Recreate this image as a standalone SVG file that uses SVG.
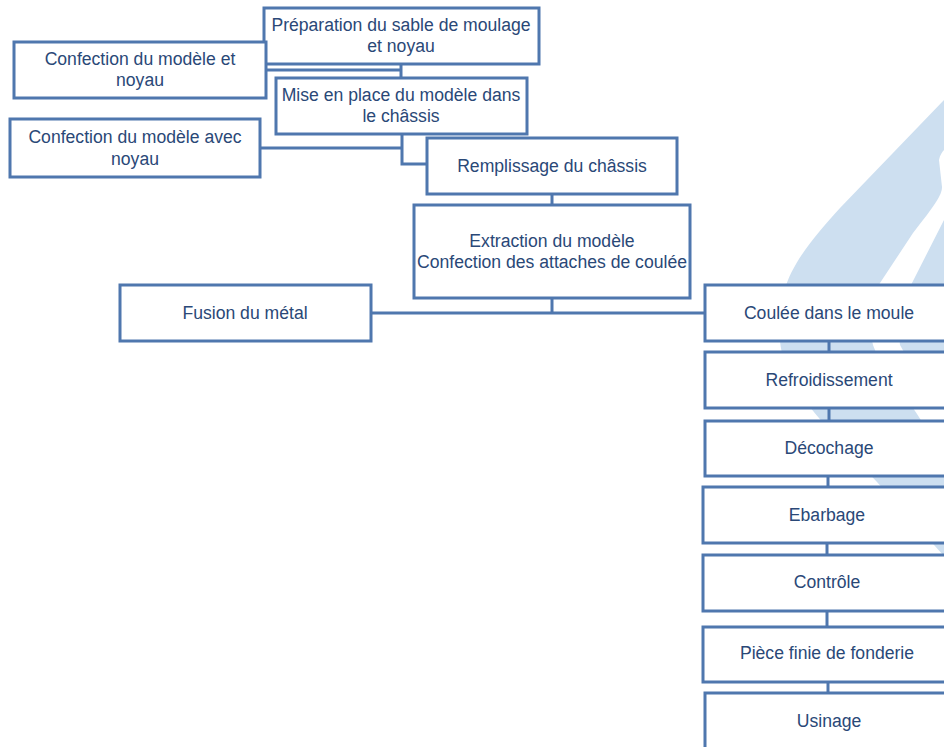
<svg xmlns="http://www.w3.org/2000/svg" width="944" height="747" viewBox="0 0 944 747">
<style>
.box rect{fill:#ffffff;stroke:#4f77ae;stroke-width:3}
.box text{font-family:"Liberation Sans",Arial,sans-serif;font-size:17.6px;fill:#2a4877;text-anchor:middle}
.wm{fill:#cddff0}
#connectors path{fill:none;stroke:#4f77ae;stroke-width:3}
</style>
<g id="watermark">
<path class="wm" d="M944,100 L840,208 C815,236 792,262 784,292 C776,322 778,350 790,378 C800,398 820,420 877,482 L944,556 L944,456 L917,414 C895,380 878,360 873,345 C868,325 872,300 880,283 L913,233 C935,205 942,195 942,187 L939,160 C940,155 942,152 944,150 Z"/>
<path class="wm" d="M944,220 L912,283 C902,303 897,325 900,345 C912,368 930,390 944,410 Z"/>
</g>
<g id="connectors">
<path d="M266,70 H402"/>
<path d="M401,64 V78"/>
<path d="M261,148 H402"/>
<path d="M402,134 V164 H427"/>
<path d="M552,194 V205"/>
<path d="M552,298 V313"/>
<path d="M371,313 H705"/>
<path d="M829,341 V352"/>
<path d="M829,408 V421"/>
<path d="M828,476 V487"/>
<path d="M827,543 V555"/>
<path d="M827,611 V627"/>
<path d="M828,682 V693"/>
</g>
<g id="n1" class="box"><rect x="264" y="8" width="275" height="56"/><text x="401" y="31">Préparation du sable de moulage</text><text x="401" y="52">et noyau</text></g>
<g id="n2" class="box"><rect x="14" y="42" width="252" height="56"/><text x="140" y="65">Confection du modèle et</text><text x="140" y="86">noyau</text></g>
<g id="n3" class="box"><rect x="276" y="78" width="251" height="56"/><text x="401" y="101">Mise en place du modèle dans</text><text x="401" y="122">le châssis</text></g>
<g id="n4" class="box"><rect x="10" y="119" width="250" height="58"/><text x="135" y="143">Confection du modèle avec</text><text x="135" y="165">noyau</text></g>
<g id="n5" class="box"><rect x="427" y="138" width="250" height="56"/><text x="552" y="172">Remplissage du châssis</text></g>
<g id="n6" class="box"><rect x="414" y="205" width="276" height="93"/><text x="552" y="247">Extraction du modèle</text><text x="552" y="268">Confection des attaches de coulée</text></g>
<g id="n7" class="box"><rect x="120" y="285" width="251" height="56"/><text x="245" y="319">Fusion du métal</text></g>
<g id="n8" class="box"><rect x="705" y="285" width="250" height="56"/><text x="829" y="319">Coulée dans le moule</text></g>
<g id="n9" class="box"><rect x="705" y="352" width="250" height="56"/><text x="829" y="386">Refroidissement</text></g>
<g id="n10" class="box"><rect x="705" y="421" width="250" height="55"/><text x="829" y="454">Décochage</text></g>
<g id="n11" class="box"><rect x="703" y="487" width="250" height="56"/><text x="827" y="521">Ebarbage</text></g>
<g id="n12" class="box"><rect x="703" y="555" width="250" height="56"/><text x="827" y="588">Contrôle</text></g>
<g id="n13" class="box"><rect x="703" y="627" width="250" height="55"/><text x="827" y="659">Pièce finie de fonderie</text></g>
<g id="n14" class="box"><rect x="705" y="693" width="250" height="70"/><text x="829" y="727">Usinage</text></g>
</svg>
